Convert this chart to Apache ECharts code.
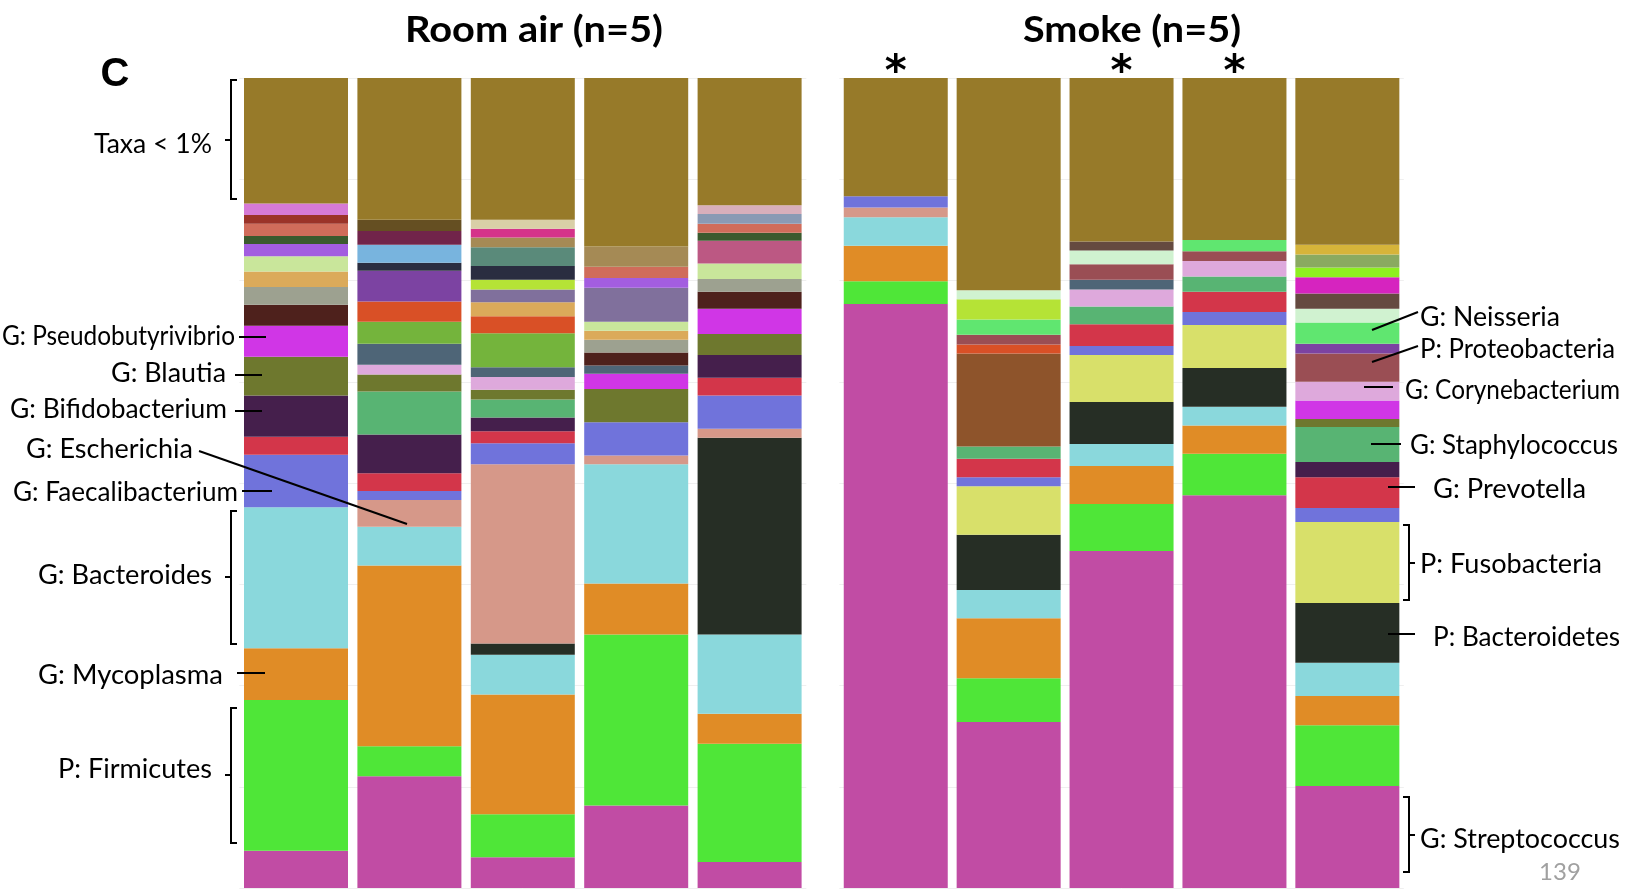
<!DOCTYPE html>
<html>
<head>
<meta charset="utf-8">
<script src="https://cdn.jsdelivr.net/npm/echarts@6/dist/echarts.min.js"></script>
<style>
  html, body { margin: 0; padding: 0; background: #ffffff; }
  #chart { width: 1628px; height: 895px; }
</style>
</head>
<body>
<div id="chart"></div>
<script>
// ---- Samples ----
const roomAirSamples = ['RA-1', 'RA-2', 'RA-3', 'RA-4', 'RA-5'];
const smokeSamples   = ['SM-1', 'SM-2', 'SM-3', 'SM-4', 'SM-5'];
const smokeSignificant = [true, false, true, true, false];

// ---- Relative abundance (%) per sample, listed bottom -> top ----
const roomAir1 = [
  ['Streptococcus', 4.6], ['Firmicutes', 18.6], ['Mycoplasma', 6.4], ['Bacteroides', 17.4],
  ['Faecalibacterium', 6.5], ['Prevotella', 2.2], ['Bifidobacterium', 5.1], ['Blautia', 4.8],
  ['Pseudobutyrivibrio', 3.8], ['otu01', 2.6], ['otu02', 2.2], ['otu03', 1.9], ['otu04', 1.9],
  ['otu05', 1.5], ['otu06', 1.0], ['otu07', 1.5], ['otu08', 1.1], ['otu09', 1.4], ['Taxa < 1%', 15.5]
];
const roomAir2 = [
  ['Streptococcus', 13.8], ['Firmicutes', 3.7], ['Mycoplasma', 22.3], ['Bacteroides', 4.8],
  ['Escherichia', 3.3], ['Faecalibacterium', 1.1], ['Prevotella', 2.2], ['Bifidobacterium', 4.8],
  ['Staphylococcus', 5.3], ['Blautia', 2.1], ['Corynebacterium', 1.2], ['otu10', 2.6], ['otu11', 2.7],
  ['otu12', 2.5], ['otu13', 3.8], ['otu14', 1.0], ['otu15', 2.2], ['otu16', 1.7], ['otu17', 1.4],
  ['Taxa < 1%', 17.5]
];
const roomAir3 = [
  ['Streptococcus', 3.8], ['Firmicutes', 5.3], ['Mycoplasma', 14.8], ['Bacteroides', 4.9],
  ['Bacteroidetes', 1.4], ['Escherichia', 22.1], ['Faecalibacterium', 2.6], ['Prevotella', 1.5],
  ['Bifidobacterium', 1.7], ['Staphylococcus', 2.2], ['Blautia', 1.2], ['Corynebacterium', 1.6],
  ['otu10', 1.2], ['otu11', 4.2], ['otu12', 2.1], ['otu03', 1.7], ['otu18', 1.6], ['otu19', 1.2],
  ['otu14', 1.7], ['otu20', 2.3], ['otu21', 1.2], ['otu22', 1.1], ['otu23', 1.1], ['Taxa < 1%', 17.5]
];
const roomAir4 = [
  ['Streptococcus', 10.2], ['Firmicutes', 21.1], ['Mycoplasma', 6.3], ['Bacteroides', 14.7],
  ['Escherichia', 1.1], ['Faecalibacterium', 4.1], ['Blautia', 4.1], ['Pseudobutyrivibrio', 1.9],
  ['otu10', 1.0], ['otu01', 1.6], ['otu02', 1.6], ['otu03', 1.1], ['otu04', 1.1], ['otu18', 4.2],
  ['otu05', 1.2], ['otu07', 1.4], ['otu21', 2.5], ['Taxa < 1%', 20.8]
];
const roomAir5 = [
  ['Streptococcus', 3.2], ['Firmicutes', 14.6], ['Mycoplasma', 3.7], ['Bacteroides', 9.8],
  ['Bacteroidetes', 24.3], ['Escherichia', 1.1], ['Faecalibacterium', 4.1], ['Prevotella', 2.2],
  ['Bifidobacterium', 2.8], ['Blautia', 2.6], ['Pseudobutyrivibrio', 3.1], ['otu01', 2.1],
  ['otu02', 1.6], ['otu04', 1.9], ['otu24', 2.8], ['otu06', 1.0], ['otu07', 1.1], ['otu25', 1.2],
  ['otu26', 1.1], ['Taxa < 1%', 15.7]
];
const smoke1 = [
  ['Streptococcus', 72.1], ['Firmicutes', 2.8], ['Mycoplasma', 4.4], ['Bacteroides', 3.5],
  ['Escherichia', 1.2], ['Faecalibacterium', 1.4], ['Taxa < 1%', 14.6]
];
const smoke2 = [
  ['Streptococcus', 20.5], ['Firmicutes', 5.4], ['Mycoplasma', 7.4], ['Bacteroides', 3.5],
  ['Bacteroidetes', 6.8], ['Fusobacteria', 6.0], ['Faecalibacterium', 1.1], ['Prevotella', 2.3],
  ['Staphylococcus', 1.5], ['otu28', 11.5], ['otu12', 1.1], ['Proteobacteria', 1.2],
  ['Neisseria', 1.9], ['otu19', 2.5], ['otu27', 1.1], ['Taxa < 1%', 26.2]
];
const smoke3 = [
  ['Streptococcus', 41.6], ['Firmicutes', 5.8], ['Mycoplasma', 4.7], ['Bacteroides', 2.7],
  ['Bacteroidetes', 5.2], ['Fusobacteria', 5.8], ['Faecalibacterium', 1.1], ['Prevotella', 2.7],
  ['Staphylococcus', 2.2], ['Corynebacterium', 2.1], ['otu10', 1.2], ['Proteobacteria', 1.9],
  ['otu27', 1.7], ['otu29', 1.1], ['Taxa < 1%', 20.2]
];
const smoke4 = [
  ['Streptococcus', 48.5], ['Firmicutes', 5.1], ['Mycoplasma', 3.5], ['Bacteroides', 2.3],
  ['Bacteroidetes', 4.8], ['Fusobacteria', 5.3], ['Faecalibacterium', 1.6], ['Prevotella', 2.5],
  ['Staphylococcus', 1.9], ['Corynebacterium', 1.9], ['Proteobacteria', 1.2], ['Neisseria', 1.4],
  ['Taxa < 1%', 20.0]
];
const smoke5 = [
  ['Streptococcus', 12.6], ['Firmicutes', 7.5], ['Mycoplasma', 3.6], ['Bacteroides', 4.1],
  ['Bacteroidetes', 7.4], ['Fusobacteria', 10.0], ['Faecalibacterium', 1.7], ['Prevotella', 3.8],
  ['Bifidobacterium', 1.9], ['Staphylococcus', 4.3], ['Blautia', 1.0], ['Pseudobutyrivibrio', 2.3],
  ['Corynebacterium', 2.3], ['Proteobacteria', 3.5], ['otu13', 1.2], ['Neisseria', 2.6],
  ['otu27', 1.7], ['otu29', 1.9], ['otu33', 2.0], ['otu32', 1.2], ['otu31', 1.6], ['otu30', 1.2],
  ['Taxa < 1%', 20.6]
];

// ---- Taxon colours ----
const taxonColors = {
  'Streptococcus': '#c14ca4', 'Firmicutes': '#4fe638', 'Mycoplasma': '#e08c26',
  'Bacteroides': '#8ad8dc', 'Bacteroidetes': '#262e25', 'Escherichia': '#d69889',
  'Faecalibacterium': '#7073db', 'Prevotella': '#d3364a', 'Bifidobacterium': '#451f4c',
  'Blautia': '#6e782e', 'Pseudobutyrivibrio': '#d036e6', 'Fusobacteria': '#d8e06a',
  'Staphylococcus': '#58b473', 'Corynebacterium': '#dea9dc', 'Proteobacteria': '#9a4e54',
  'Neisseria': '#60e670', 'Taxa < 1%': '#977a29',
  'otu01': '#4e211c', 'otu02': '#9da190', 'otu03': '#dbaa5a', 'otu04': '#c9e69b',
  'otu05': '#a35de0', 'otu06': '#3b5a2e', 'otu07': '#d06c5a', 'otu08': '#9b3328',
  'otu09': '#d67ad6', 'otu10': '#4e6577', 'otu11': '#74b43c', 'otu12': '#d95026',
  'otu13': '#7c43a2', 'otu14': '#2a2d40', 'otu15': '#78b4de', 'otu16': '#71244a',
  'otu17': '#654f22', 'otu18': '#80709c', 'otu19': '#b5e336', 'otu20': '#5a8a7a',
  'otu21': '#a58a55', 'otu22': '#d5338a', 'otu23': '#d9cfa7', 'otu24': '#bc5883',
  'otu25': '#8a9ab4', 'otu26': '#d9afbb', 'otu27': '#d0f2d0', 'otu28': '#8e542b',
  'otu29': '#654a40', 'otu30': '#d6b43a', 'otu31': '#8aaa60', 'otu32': '#8ef020',
  'otu33': '#d624bf'
};

const roomAirGroup = [roomAir1, roomAir2, roomAir3, roomAir4, roomAir5];
const smokeGroup   = [smoke1, smoke2, smoke3, smoke4, smoke5];

// One stacked series per layer index; each data item carries its own taxon colour.
function layerSeries(group, gridIndex, flags) {
  const depth = Math.max(...group.map(s => s.length));
  const list = [];
  for (let k = 0; k < depth; k++) {
    list.push({
      type: 'bar',
      xAxisIndex: gridIndex,
      yAxisIndex: gridIndex,
      stack: 'g' + gridIndex,
      barWidth: 104,
      silent: true,
      z: 2,
      data: group.map((sample, i) => {
        const seg = sample[k];
        if (!seg) return { value: 0, itemStyle: { color: 'rgba(0,0,0,0)' } };
        const item = { value: seg[1], name: seg[0], itemStyle: { color: taxonColors[seg[0]] } };
        if (flags && flags[i] && k === sample.length - 1) {
          item.label = {
            show: true, position: 'top', formatter: '*', distance: 0, offset: [0, 17],
            color: '#000', fontSize: 42, fontWeight: 'bold', fontFamily: 'DejaVu Sans'
          };
        }
        return item;
      })
    });
  }
  return list;
}

// Text helpers: labels are stretched horizontally to a given width.
const measureCtx = document.createElement('canvas').getContext('2d');
const FONT = '26px Lato';
const txt = (text, x, y, align, width, font, fill) => {
  const f = font || FONT;
  measureCtx.font = f;
  const w = measureCtx.measureText(text).width;
  return {
    type: 'text', x: x, y: y, z: 100, silent: true,
    scaleX: width ? width / w : 1,
    style: { text: text, font: f, fill: fill || '#000', align: align, verticalAlign: 'middle' }
  };
};
const path = (points) => ({
  type: 'polyline', silent: true, z: 100,
  shape: { points: points },
  style: { stroke: '#000', lineWidth: 2, fill: null }
});
const leftBracket = (y1, y2, ym) => [
  path([[237, y1], [231, y1], [231, y2], [237, y2]]),
  path([[225, ym], [231, ym]])
];
const rightBracket = (y1, y2, ym) => [
  path([[1403, y1], [1409, y1], [1409, y2], [1403, y2]]),
  path([[1409, ym], [1415, ym]])
];

const TITLE_FONT = 'bold 37px Lato';
const graphics = [
  txt('C', 115, 75, 'center', 0, 'bold 40px "Liberation Sans"'),
  txt('Room air (n=5)', 534, 30, 'center', 258, TITLE_FONT),
  txt('Smoke (n=5)', 1132, 30, 'center', 218, TITLE_FONT),
  txt('139', 1560, 872, 'center', 0, '24px Lato', '#a0a0a0'),

  txt('Taxa < 1%', 212, 145, 'right', 118),
  ...leftBracket(80, 199, 140),
  txt('G: Pseudobutyrivibrio', 235, 337, 'right', 233),
  path([[239, 337], [266, 337]]),
  txt('G: Blautia', 226, 374, 'right', 115),
  path([[235, 375], [262, 375]]),
  txt('G: Bifidobacterium', 227, 410, 'right', 217),
  path([[235, 411], [262, 411]]),
  txt('G: Escherichia', 193, 450, 'right', 167),
  path([[199, 451], [407, 524]]),
  txt('G: Faecalibacterium', 238, 493, 'right', 225),
  path([[242, 491], [272, 491]]),
  txt('G: Bacteroides', 212, 576, 'right', 174),
  ...leftBracket(511, 644, 577),
  txt('G: Mycoplasma', 223, 676, 'right', 185),
  path([[237, 673], [265, 673]]),
  txt('P: Firmicutes', 212, 770, 'right', 154),
  ...leftBracket(708, 843, 775),

  txt('G: Neisseria', 1420, 318, 'left', 140),
  path([[1372, 330], [1418, 312]]),
  txt('P: Proteobacteria', 1420, 350, 'left', 195),
  path([[1372, 362], [1418, 346]]),
  txt('G: Corynebacterium', 1405, 391, 'left', 215),
  path([[1364, 387], [1393, 387]]),
  txt('G: Staphylococcus', 1410, 446, 'left', 208),
  path([[1371, 444], [1401, 444]]),
  txt('G: Prevotella', 1433, 490, 'left', 153),
  path([[1388, 487], [1415, 487]]),
  txt('P: Fusobacteria', 1420, 565, 'left', 182),
  ...rightBracket(525, 600, 563),
  txt('P: Bacteroidetes', 1433, 638, 'left', 187),
  path([[1388, 634], [1415, 634]]),
  txt('G: Streptococcus', 1420, 840, 'left', 200),
  ...rightBracket(797, 872, 835)
];

const valueAxis = (gridIndex) => ({
  type: 'value', gridIndex: gridIndex, min: 0, max: 100, interval: 12.5,
  axisLabel: { show: false }, axisLine: { show: false }, axisTick: { show: false },
  splitLine: { show: true, lineStyle: { color: '#efefef', width: 1 } }
});
const catAxis = (gridIndex, names) => ({
  type: 'category', gridIndex: gridIndex, data: names,
  axisLabel: { show: false }, axisLine: { show: false }, axisTick: { show: false }
});

const chart = echarts.init(document.getElementById('chart'), null, { renderer: 'canvas' });
chart.setOption({
  animation: false,
  backgroundColor: '#ffffff',
  grid: [
    { left: 239.3, width: 567, top: 78, height: 810 },
    { left: 839.3, width: 564.5, top: 78, height: 810 }
  ],
  xAxis: [catAxis(0, roomAirSamples), catAxis(1, smokeSamples)],
  yAxis: [valueAxis(0), valueAxis(1)],
  series: [
    ...layerSeries(roomAirGroup, 0, null),
    ...layerSeries(smokeGroup, 1, smokeSignificant)
  ],
  graphic: { elements: graphics }
});
</script>
</body>
</html>
